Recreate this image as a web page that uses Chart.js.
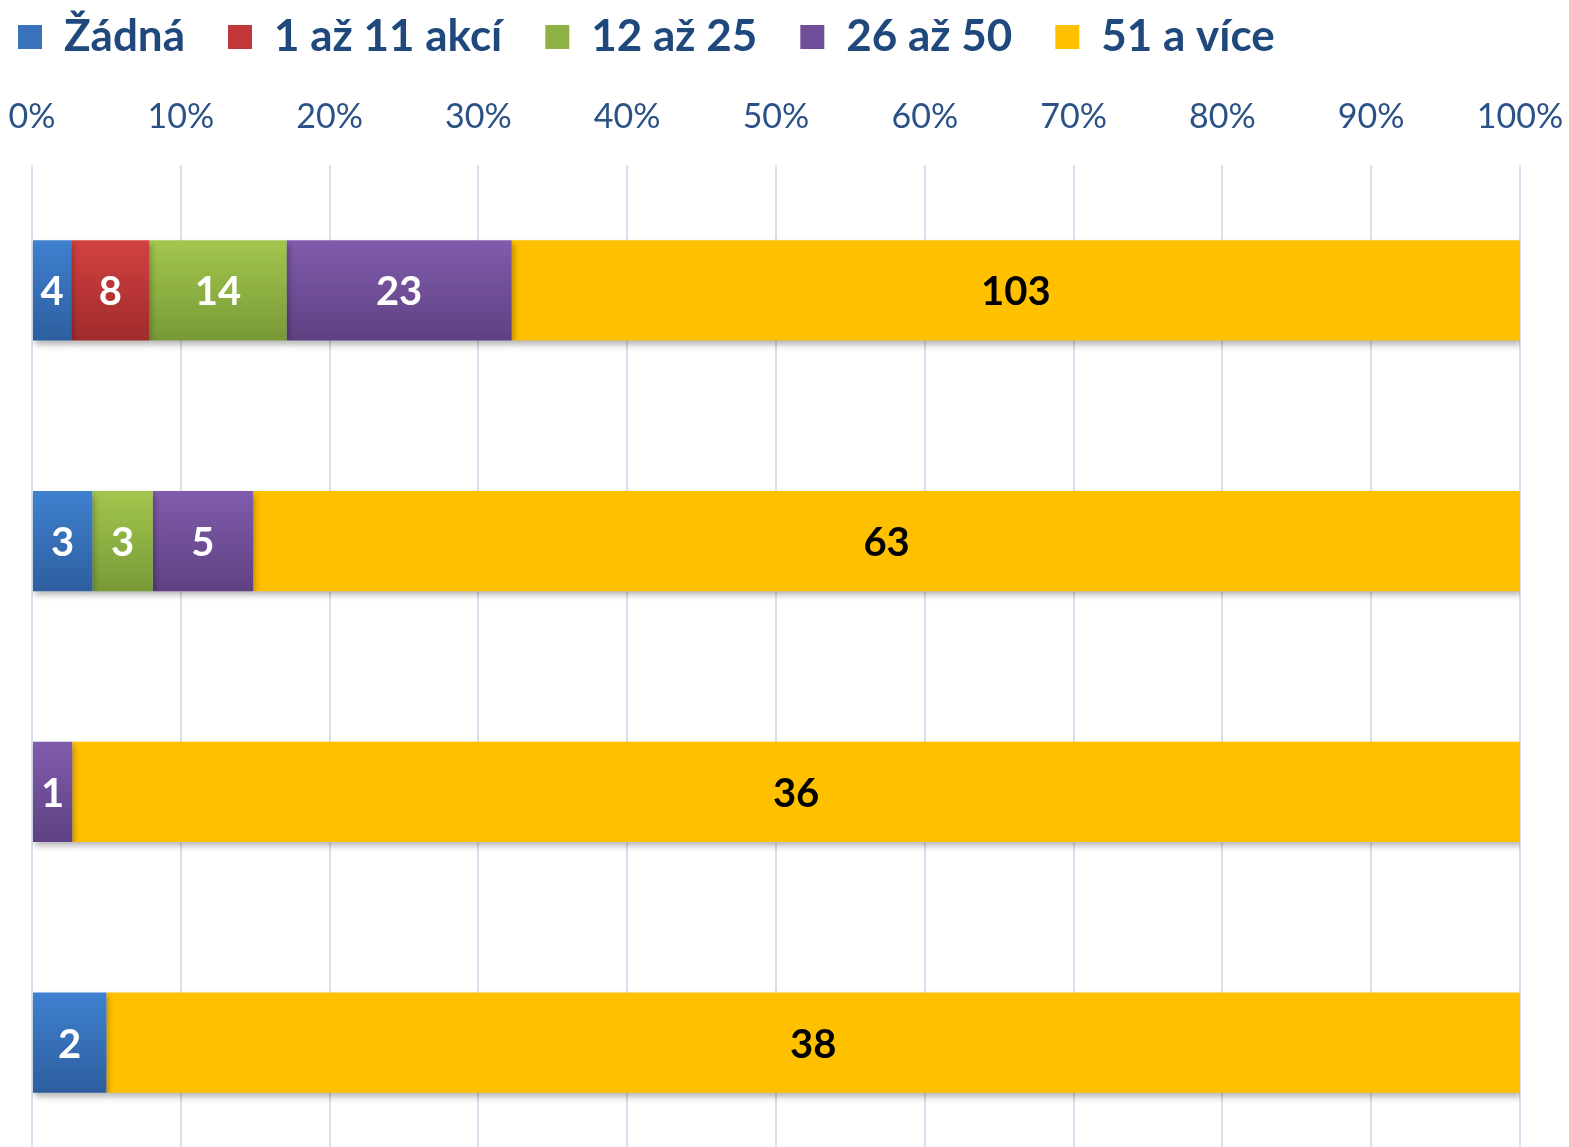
<!DOCTYPE html>
<html>
<head>
<meta charset="utf-8">
<script src="https://cdn.jsdelivr.net/npm/chart.js@4"></script>
<style>
  html, body { margin: 0; padding: 0; background: #fff; overflow: hidden; }
  #wrap { position: absolute; left: 0; top: 0; width: 1569px; height: 1170px; }
</style>
</head>
<body>
<div id="wrap"><canvas id="barChart" width="1569" height="1170"></canvas></div>
<script>
// rows, top to bottom
var rows = ["A", "B", "C", "D"];

var zadna = [4, 3, 0, 2];
var akci1_11 = [8, 0, 0, 0];
var od12_25 = [14, 3, 0, 0];
var od26_50 = [23, 5, 1, 0];
var nad51 = [103, 63, 36, 38];

var tickLabels = ["0%", "10%", "20%", "30%", "40%", "50%", "60%", "70%", "80%", "90%", "100%"];

var FONT = "'Lato', 'DejaVu Sans', sans-serif";

var totals = rows.map(function (r, i) {
	return zadna[i] + akci1_11[i] + od12_25[i] + od26_50[i] + nad51[i];
});
function pct(arr) {
	return arr.map(function (v, i) { return v / totals[i] * 100; });
}

// vertical gradient per bar, like the office look
function grad(top, bottom) {
	return function (c) {
		var chart = c.chart;
		if (!chart.chartArea || !chart.scales.y) return top;
		var y = chart.scales.y.getPixelForValue(c.dataIndex);
		var g = chart.ctx.createLinearGradient(0, y - 50, 0, y + 50);
		g.addColorStop(0, top);
		g.addColorStop(1, bottom);
		return g;
	};
}

var series = [
	{ label: "Žádná", counts: zadna, top: "#3F81CF", bottom: "#2D5E9F", legend: "#3A72BB" },
	{ label: "1 až 11 akcí", counts: akci1_11, top: "#D24141", bottom: "#A12B2B", legend: "#C03737" },
	{ label: "12 až 25", counts: od12_25, top: "#A2C64D", bottom: "#789A37", legend: "#8DB144" },
	{ label: "26 až 50", counts: od26_50, top: "#815CAD", bottom: "#5E4182", legend: "#704E98" },
	{ label: "51 a více", counts: nad51, top: "#FFC000", bottom: "#FFC000", legend: "#FFC000" }
];

var datasets = series.map(function (s) {
	return {
		label: s.label,
		data: pct(s.counts),
		counts: s.counts,
		backgroundColor: grad(s.top, s.bottom),
		legendColor: s.legend,
		borderWidth: 0,
		barPercentage: 0.4,
		categoryPercentage: 1.0
	};
});

var barShadow = {
	id: 'barShadow',
	beforeDatasetsDraw: function (chart) {
		var ctx = chart.ctx;
		ctx.save();
		ctx.shadowColor = 'rgba(0,0,0,0.28)';
		ctx.shadowBlur = 6;
		ctx.shadowOffsetX = 2;
		ctx.shadowOffsetY = 4;
	},
	afterDatasetsDraw: function (chart) {
		chart.ctx.restore();
	}
};

var barLabels = {
	id: 'barLabels',
	afterDatasetsDraw: function (chart) {
		var ctx = chart.ctx;
		ctx.save();
		ctx.font = "bold 40px " + FONT;
		ctx.textAlign = 'center';
		ctx.textBaseline = 'middle';
		chart.data.datasets.forEach(function (ds, di) {
			var meta = chart.getDatasetMeta(di);
			meta.data.forEach(function (bar, i) {
				var v = ds.counts[i];
				if (!v) return;
				var p = bar.getCenterPoint();
				ctx.fillStyle = di === 4 ? '#000000' : '#FFFFFF';
				ctx.fillText(String(v), p.x, p.y + 2);
			});
		});
		ctx.restore();
	}
};

var ctx = document.getElementById("barChart").getContext('2d');

var myBarChart = new Chart(ctx, {
	type: 'bar',
	data: {
		labels: rows,
		datasets: datasets
	},
	plugins: [barShadow, barLabels],
	options: {
		indexAxis: 'y',
		responsive: false,
		animation: false,
		layout: { padding: { left: 8, right: 49, top: 5, bottom: 2 } },
		plugins: {
			legend: {
				position: 'top',
				align: 'start',
				labels: {
					font: { family: FONT, size: 44, weight: 'bold', lineHeight: 1 },
					color: '#1F497D',
					boxWidth: 24,
					boxHeight: 24,
					padding: 10,
					generateLabels: function (chart) {
						return chart.data.datasets.map(function (ds, i) {
							return {
								text: ds.label + "\u2003",
								fillStyle: ds.legendColor,
								strokeStyle: ds.legendColor,
								lineWidth: 0,
								fontColor: '#1F497D',
								datasetIndex: i
							};
						});
					}
				}
			},
			tooltip: { enabled: false }
		},
		scales: {
			x: {
				position: 'top',
				stacked: true,
				min: 0,
				max: 100,
				border: { display: false },
				grid: { color: '#D6E0EE', lineWidth: 2, drawTicks: false },
				ticks: {
					stepSize: 10,
					padding: 31,
					color: '#2B5287',
					font: { family: FONT, size: 34, lineHeight: 1 },
					callback: function (v, i) { return tickLabels[i]; }
				},
				afterFit: function (scale) {
					scale.paddingLeft = 0;
					scale.paddingRight = 0;
				}
			},
			y: {
				stacked: true,
				display: true,
				ticks: { display: false },
				grid: { display: false, drawTicks: false },
				border: { display: false },
				afterFit: function (scale) { scale.width = 24; }
			}
		}
	}
});
</script>
</body>
</html>
